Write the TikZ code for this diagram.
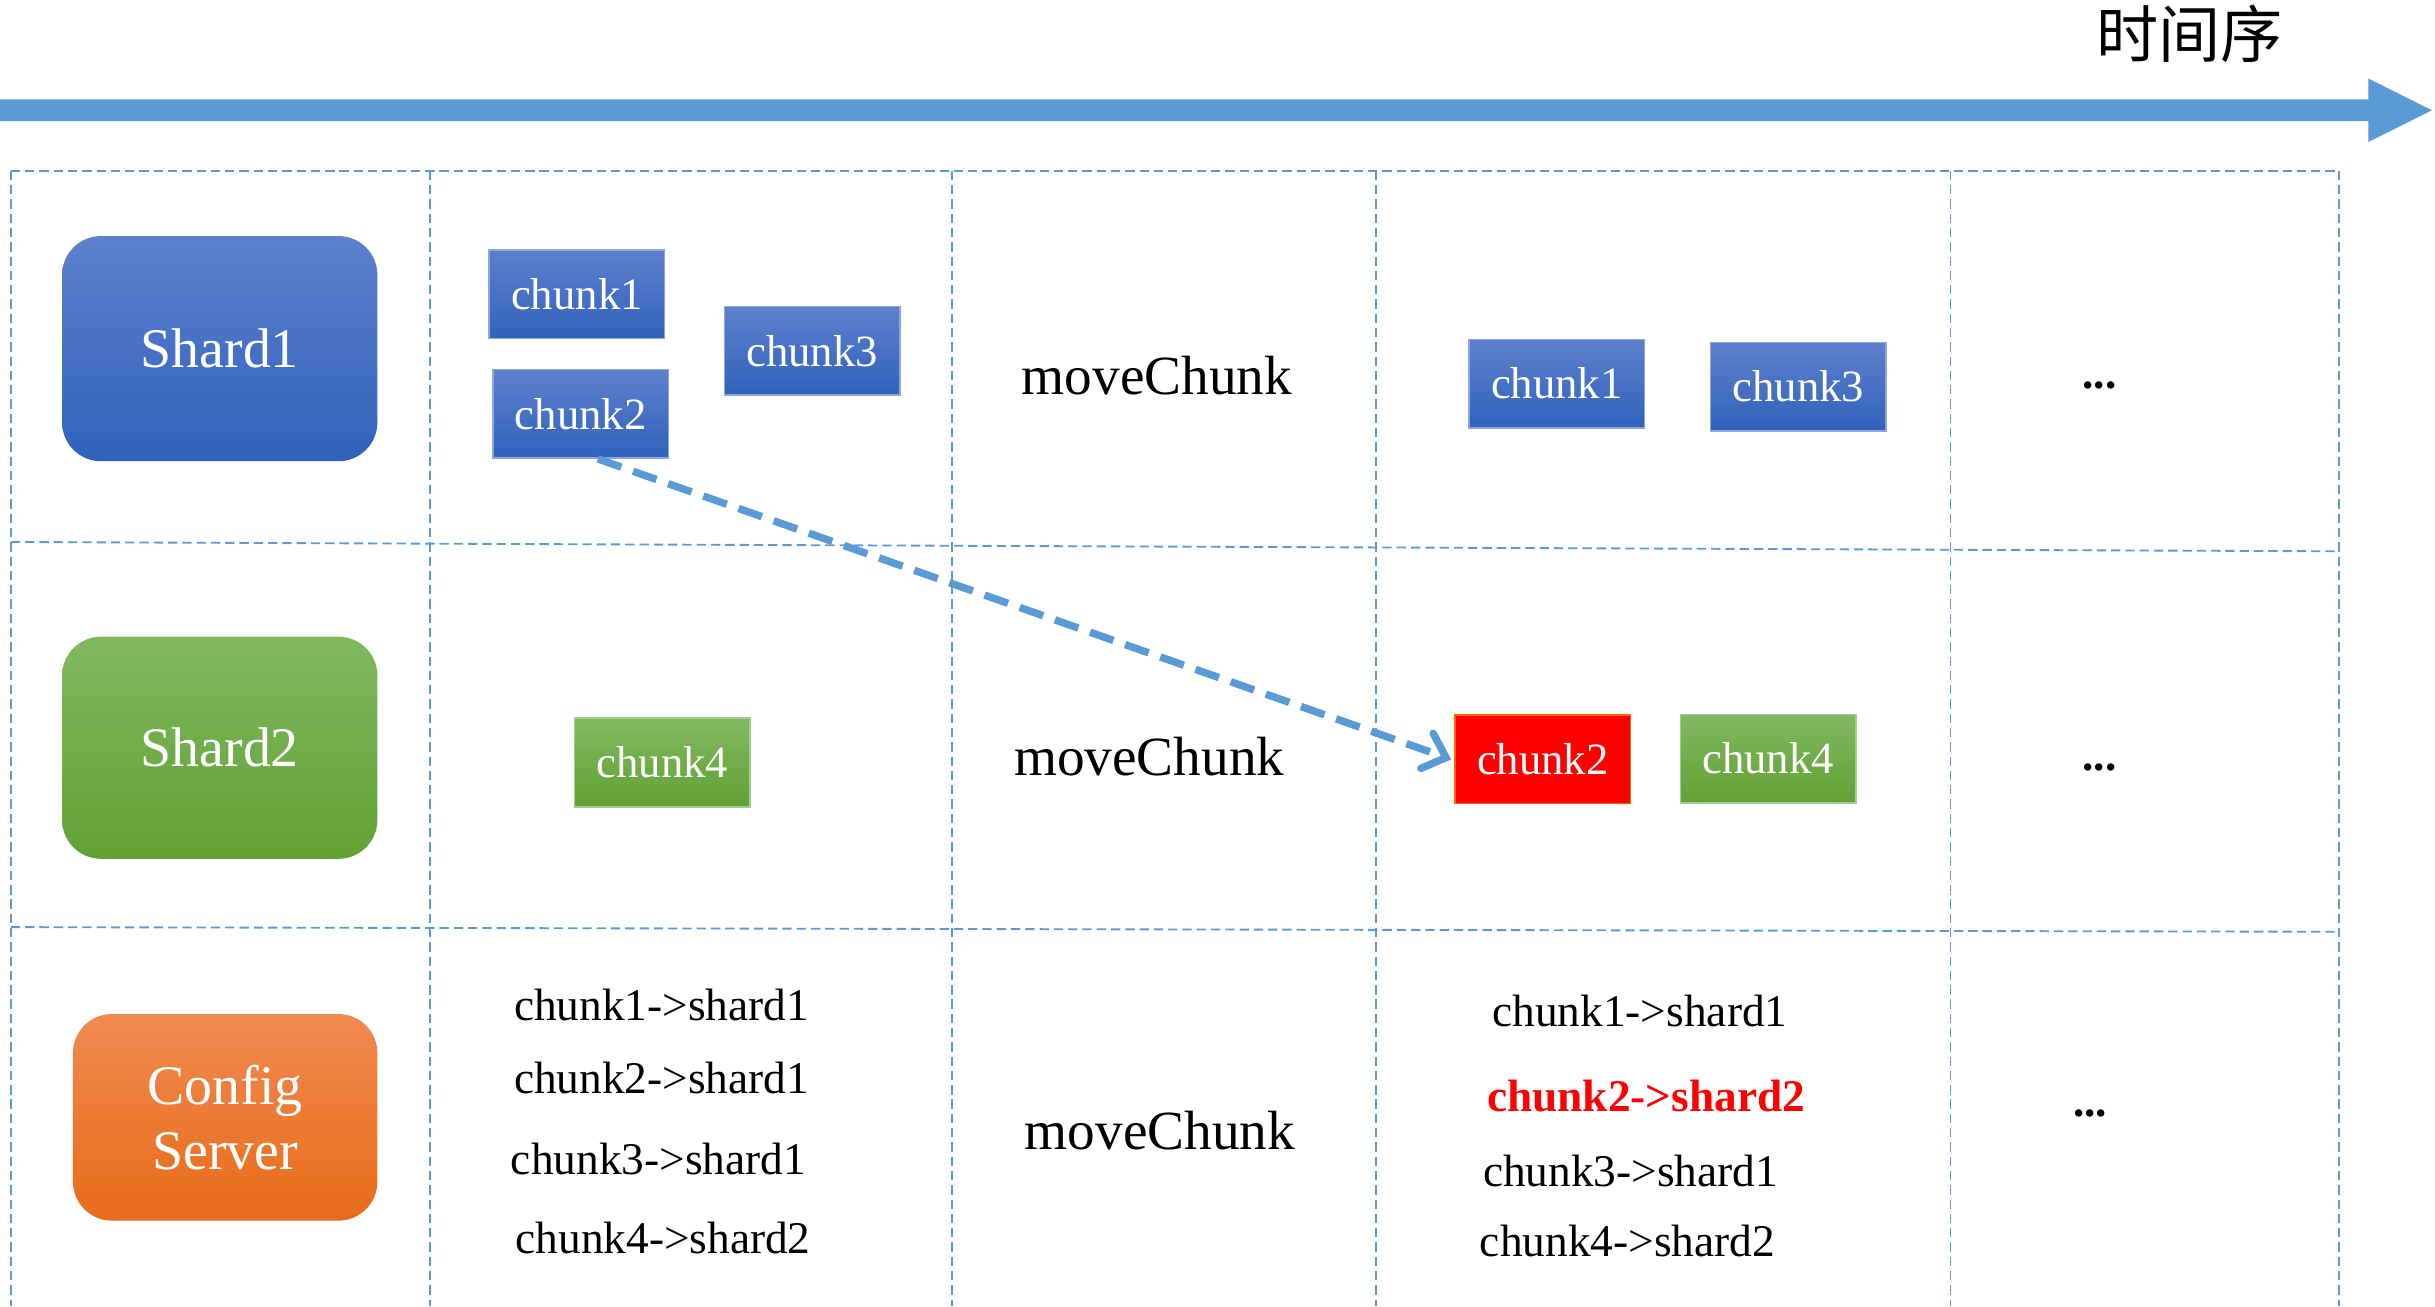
\documentclass[tikz,border=0pt]{standalone}
\usepackage{fontspec}
\setmainfont{Liberation Serif}
\newfontfamily\cjk{Noto Sans CJK SC}
\usetikzlibrary{arrows.meta}
\definecolor{arrowblue}{HTML}{5B9BD5}
\definecolor{blueT}{HTML}{5D80CB}
\definecolor{blueB}{HTML}{3062BC}
\definecolor{greenT}{HTML}{80B860}
\definecolor{greenB}{HTML}{62A234}
\definecolor{orangeT}{HTML}{F08A50}
\definecolor{orangeB}{HTML}{E86C1A}
\tikzset{
  grid/.style={draw=arrowblue, line width=0.6pt, dash pattern=on 3pt off 1.6pt},
  server/.style={rounded corners=12.5pt, draw=none, text=white, align=center,
    font=\fontsize{18}{22}\selectfont, inner sep=0pt},
  bluesrv/.style={server, top color=blueT, bottom color=blueB},
  greensrv/.style={server, top color=greenT, bottom color=greenB},
  orangesrv/.style={server, top color=orangeT, bottom color=orangeB},
  chunkbox/.style={minimum width=56.5pt, minimum height=28.5pt, inner sep=0pt,
    text=white, font=\fontsize{14.4}{16}\selectfont, line width=0.5pt},
  bluechunk/.style={chunkbox, top color=blueT, bottom color=blueB, draw=blueT!70!white},
  greenchunk/.style={chunkbox, top color=greenT, bottom color=greenB, draw=greenT!70!white},
  redchunk/.style={chunkbox, fill=red, draw=orange!80!red},
  opname/.style={font=\fontsize{17.8}{20}\selectfont},
  maptext/.style={font=\fontsize{14.6}{17}\selectfont},
  dots/.style={font=\fontsize{14.6}{17}\selectfont\bfseries},
}
\begin{document}
\begin{tikzpicture}[x=0.5pt,y=-0.5pt]
\useasboundingbox (0,0) rectangle (1568,841);
% time arrow
\fill[arrowblue] (0,64) -- (1525,64) -- (1525,50.5) -- (1566,71) -- (1525,91.5) -- (1525,78) -- (0,78) -- cycle;
\node[font=\cjk\fontsize{20}{24}\selectfont] (time) at (1410,22) {时间序};
% grid
\draw[grid] (7,110) -- (1506,110);
\draw[grid] (7,349) -- (1506,355);
\draw[grid] (7,597) -- (1506,600);
\foreach \gx in {7,277,613,886,1256,1506} {
  \draw[grid] (\gx,110) -- (\gx,841);
}
% servers
\node[bluesrv, minimum width=101.5pt, minimum height=72.5pt] (s1) at (141.5,224.5) {Shard1};
\node[greensrv, minimum width=101.5pt, minimum height=71.5pt] (s2) at (141.5,481.5) {Shard2};
\node[orangesrv, minimum width=98pt, minimum height=66.5pt] (cfg) at (145,719.5) {Config\\[-1pt]Server};
% chunks before
\node[bluechunk] (c1a) at (371.5,189.5) {chunk1};
\node[bluechunk] (c3a) at (523,226) {chunk3};
\node[bluechunk] (c2a) at (374,266.5) {chunk2};
\node[greenchunk] (c4a) at (426.5,491) {chunk4};
% moveChunk labels
\node[opname] (m1) at (745,242) {moveChunk};
\node[opname] (m2) at (740,487) {moveChunk};
\node[opname] (m3) at (747,728) {moveChunk};
% chunks after
\node[bluechunk] (c1b) at (1002.5,247) {chunk1};
\node[bluechunk] (c3b) at (1158,249) {chunk3};
\node[redchunk] (c2b) at (993.5,489) {chunk2};
\node[greenchunk] (c4b) at (1138.5,488.5) {chunk4};
% dots
\node[dots] (d1) at (1352,248) {...};
\node[dots] (d2) at (1352,494) {...};
\node[dots] (d3) at (1346,717) {...};
% config mapping before
\node[maptext] (ma1) at (426,647) {chunk1->shard1};
\node[maptext] (ma2) at (426,694) {chunk2->shard1};
\node[maptext] (ma3) at (424,746) {chunk3->shard1};
\node[maptext] (ma4) at (427,797) {chunk4->shard2};
% config mapping after
\node[maptext] (mb1) at (1056,651) {chunk1->shard1};
\node[maptext, text=red, font=\fontsize{14.6}{17}\selectfont\bfseries] (mb2) at (1060,706) {chunk2->shard2};
\node[maptext] (mb3) at (1050,754) {chunk3->shard1};
\node[maptext] (mb4) at (1048,799) {chunk4->shard2};
% move arrow
\draw[arrowblue, line width=2.4pt, dash pattern=on 8pt off 4pt,
  -{Straight Barb[length=6.5pt,width=12pt,line cap=round]}]
  ([xshift=5.5pt]c2a.south) -- ([xshift=-1pt]c2b.west);
\end{tikzpicture}
\end{document}
